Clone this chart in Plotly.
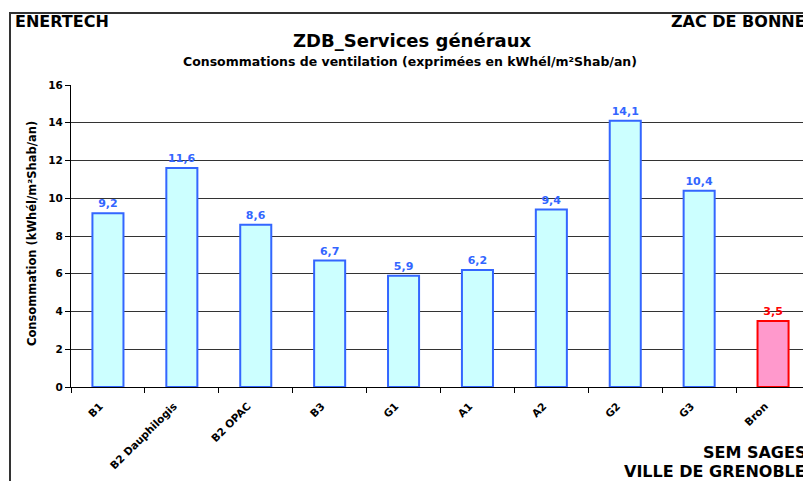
import plotly.graph_objects as go

categories = ["B1", "B2 Dauphilogis", "B2 OPAC", "B3", "G1", "A1", "A2", "G2", "G3", "Bron"]
values = [9.2, 11.6, 8.6, 6.7, 5.9, 6.2, 9.4, 14.1, 10.4, 3.5]
fill_colors = ["#CCFFFF"] * 9 + ["#FF99CC"]
line_colors = ["#3366FF"] * 9 + ["#FF0000"]
y_ticks = [0, 2, 4, 6, 8, 10, 12, 14, 16]

FONT = "DejaVu Sans, Liberation Sans, Arial, sans-serif"

OFF = 8  # page body margin
W, H = 811 - OFF, 481 - OFF
L = 71 - OFF
T = 85 - OFF
R = W - (810 - OFF)
B = H - (387 - OFF)
pw, ph = W - L - R, H - T - B

def px(x):
    return (x - OFF - L) / pw

def py(y):
    return (H - B - (y - OFF)) / ph

fig = go.Figure()
fig.add_trace(go.Bar(
    x=categories, y=values,
    marker=dict(color=fill_colors, line=dict(color=line_colors, width=2)),
    texttemplate="%{y:.1f}", textposition="outside",
    textfont=dict(family=FONT, size=11, color=line_colors, weight="bold"),
    cliponaxis=False,
))

fig.update_layout(
    width=W, height=H,
    margin=dict(l=L, r=R, t=T, b=B),
    paper_bgcolor="white", plot_bgcolor="white",
    separators=", ",
    bargap=0.58,
    showlegend=False,
    font=dict(family=FONT, size=10, color="black"),
    xaxis=dict(
        tickangle=-45, tickfont=dict(family=FONT, size=10.5, color="black", weight="bold"),
        showline=True, linecolor="black", linewidth=1,
        ticks="outside", tickson="boundaries", ticklen=5, tickcolor="black",
        ticklabelstandoff=8, ticklabelshift=-8,
        showgrid=False,
    ),
    yaxis=dict(
        range=[0, 16], tickvals=y_ticks,
        tickfont=dict(family=FONT, size=10.5, color="black", weight="bold"),
        showline=True, linecolor="black", linewidth=1,
        ticks="outside", ticklen=5, tickcolor="black",
        showgrid=True, gridcolor="#333333", gridwidth=1,
        zeroline=False,
    ),
)

# outer frame
fig.add_shape(type="rect", xref="paper", yref="paper",
              x0=px(10), x1=px(810), y0=py(484), y1=py(13),
              line=dict(color="#333333", width=2), fillcolor="rgba(0,0,0,0)", layer="above")

def ann(text, x, y, size, xanchor="center", textangle=0):
    fig.add_annotation(text=text, xref="paper", yref="paper", x=px(x), y=py(y),
                       xanchor=xanchor, yanchor="middle", showarrow=False,
                       textangle=textangle,
                       font=dict(family=FONT, size=size, color="black", weight="bold"))

ann("ENERTECH", 13, 22, 16, "left")
ann("ZAC DE BONNE", 808, 22, 16, "right")
ann("ZDB_Services généraux", 412, 40, 18)
ann("Consommations de ventilation (exprimées en kWhél/m²Shab/an)", 410, 61, 12.5)
ann("Consommation (kWhél/m²Shab/an)", 32, 234, 11.5, textangle=-90)
ann("SEM SAGES", 808, 452, 16, "right")
ann("VILLE DE GRENOBLE", 808, 471, 16, "right")

fig.write_html("out.html")
